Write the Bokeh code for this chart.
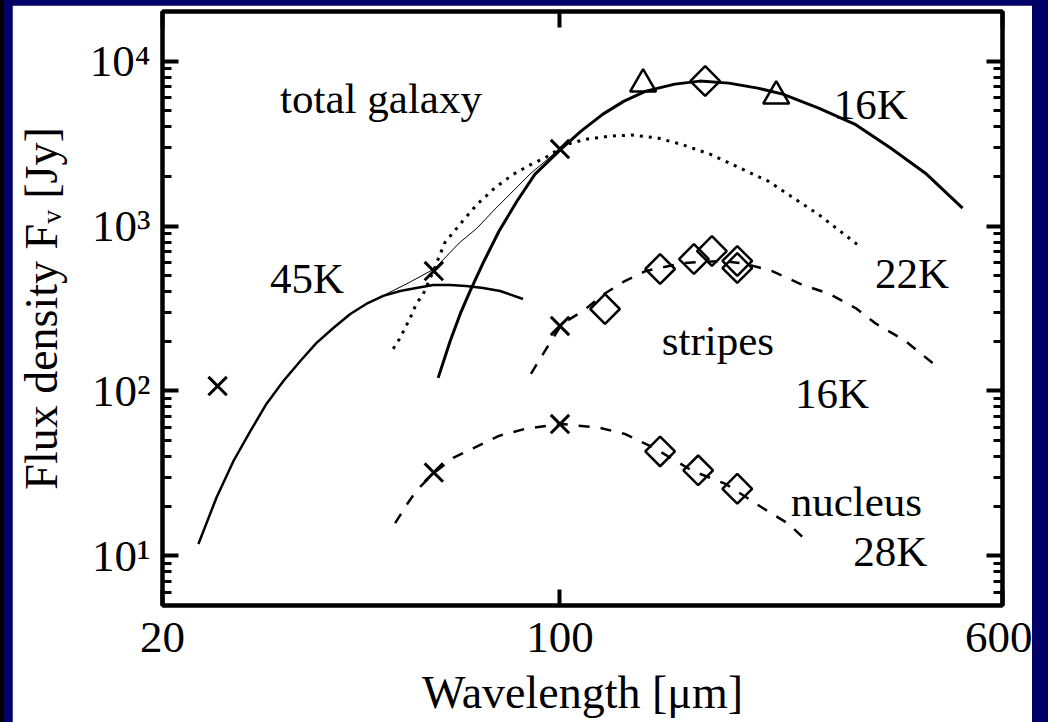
import numpy as np
from bokeh.plotting import figure
from bokeh.models import Range1d, FixedTicker, LogAxis
from bokeh.embed import file_html
from bokeh.resources import INLINE
from bokeh.core.properties import value

# ---------------- data (wavelength in micron, flux density in Jy) ----------------
# total galaxy: 45K component (solid)
lam_45k = [23.13, 24.88, 26.66, 28.56, 30.46, 32.63, 34.95, 37.28, 39.94, 42.78, 45.63, 48.89,
           52.36, 55.87, 59.84, 64.11, 68.39, 73.25, 78.47, 86.1]
flux_45k = [11.8, 22.5, 37.6, 57.2, 83.4, 115, 152, 195, 241, 293, 337, 377,
            404, 421, 439, 439, 433, 421, 404, 361]
# total galaxy: 22K component (dotted)
lam_22k = [50.9, 52.36, 54.52, 55.87, 57.47, 60.1, 62.71, 67.45, 71.48, 76.89, 82.7, 88.94, 94.23,
           102.8, 110.6, 122.4, 133.6, 147.9, 163.8, 184.0, 206.7, 232.2, 257.1, 284.7, 310.7, 338.9]
flux_22k = [180, 210, 277, 337, 387, 549, 792, 1072, 1353, 1708, 2056, 2364, 2595,
            3125, 3352, 3511, 3561, 3430, 3125, 2719, 2257, 1874, 1485, 1177, 933, 739]
# total galaxy: 16K component (thick solid)
lam_16k = [61.06, 64.11, 66.76, 69.51, 73.54, 78.15, 84.05, 90.39, 100.4, 108.9, 119.0, 129.6,
           141.6, 159.2, 176.2, 198.1, 222.7, 246.4, 285.0, 329.7, 381.4, 441.0, 510.4]
flux_16k = [120, 201, 293, 404, 614, 933, 1418, 2066, 2929, 3765, 4772, 5722,
            6579, 7255, 7566, 7357, 6862, 6310, 5191, 4152, 2970, 2066, 1286]
# total galaxy: sum of components (thin solid)
lam_sum = [45.63, 49.48, 54.08, 60.1, 66.49, 71.48, 76.89, 82.7, 88.94, 95.65, 100.4, 108.9]
flux_sum = [337, 387, 451, 549, 789, 972, 1268, 1630, 2095, 2583, 2970, 3765]
# stripes: 16K fit (dashed)
lam_str = [88.9, 94.1, 100.8, 109.7, 119.5, 130, 141.6, 164.4, 193.3, 212, 235.6, 265, 298, 331, 360, 405, 463]
flux_str = [127, 175, 255, 305, 387, 464, 534, 597, 614, 590, 534, 445, 387, 318, 255, 201, 138]
# nucleus: 28K fit (dashed)
lam_nuc = [51.3, 53.9, 55.9, 60.0, 64.9, 70.6, 78.1, 86.8, 100.8, 117.5, 130, 146.3, 171.2, 195.6,
           227.3, 252.5, 271.6]
flux_nuc = [15.8, 20.7, 24.8, 31.8, 39.3, 45.1, 53.4, 58.9, 63.1, 59.7, 54.9, 45.1, 32.7, 27.3,
            19.5, 15.6, 12.3]

# measured points
tot_x_lam = [25, 60, 100]
tot_x_flux = [107, 533, 2930]
tot_tri_lam = [140, 240]
tot_tri_flux = [7260, 6140]
tot_dia_lam = [180]
tot_dia_flux = [7570]
str_x_lam = [100]
str_x_flux = [248]
str_dia_lam = [120, 150, 172, 185, 205, 205]
str_dia_flux = [314, 549, 631, 705, 614, 556]
nuc_x_lam = [60, 100]
nuc_x_flux = [32, 63]
nuc_dia_lam = [150, 175, 205]
nuc_dia_flux = [43, 33, 25.5]

# annotations
ann_text = ["total galaxy", "16K", "45K", "22K", "stripes", "16K", "nucleus", "28K"]
ann_lam = [32.2, 303, 30.9, 358, 151, 259, 254.5, 328]
ann_flux = [5970, 5480, 484, 519, 201, 95.9, 21.5, 10.7]

# ticks
x_ticks = [20, 100, 600]
x_tick_labels = ["20", "100", "600"]
y_ticks = [10, 100, 1000, 10000]
y_tick_labels = ["10\u00b9", "10\u00b2", "10\u00b3", "10\u2074"]
y_minor = [m * 10 ** e for e in range(0, 4) for m in range(2, 10) if 5 < m * 10 ** e < 20000]

FONT = "'Liberation Serif', 'Times New Roman', serif"
NAVY = "#000066"

# canvas runs a little below the window so the x-axis title can sit at the very bottom edge
p = figure(width=1020, height=740, x_axis_type="log", y_axis_type="log",
           x_range=Range1d(20, 600), y_range=Range1d(5, 20000),
           output_backend="svg", toolbar_location=None,
           min_border_left=147, min_border_right=30, min_border_top=6, min_border_bottom=140,
           background_fill_color="white", border_fill_color="white",
           outline_line_color="black", outline_line_width=4)
p.margin = (5, 0, 0, 12)
p.xgrid.visible = False
p.ygrid.visible = False

xt = FixedTicker(ticks=x_ticks, minor_ticks=[])
yt = FixedTicker(ticks=y_ticks, minor_ticks=y_minor)

p.add_layout(LogAxis(), "right")
p.add_layout(LogAxis(), "above")

for ax in p.xaxis:
    ax.ticker = xt
for ax in p.yaxis:
    ax.ticker = yt

for ax in p.axis:
    ax.axis_line_width = 4
    ax.axis_line_color = "black"
    ax.major_tick_in = 16
    ax.major_tick_out = 0
    ax.minor_tick_in = 9
    ax.minor_tick_out = 0
    ax.major_tick_line_width = 4
    ax.minor_tick_line_width = 3
    ax.major_label_text_font = FONT
    ax.major_label_text_color = "black"
    ax.axis_label_text_font = FONT
    ax.axis_label_text_font_style = "normal"
    ax.axis_label_text_color = "black"

p.below[0].major_label_overrides = dict(zip(x_ticks, x_tick_labels))
p.left[0].major_label_overrides = dict(zip(y_ticks, y_tick_labels))
for ax in (p.below[0], p.left[0]):
    ax.major_label_text_font_size = "45px"
    ax.axis_label_text_font_size = "46px"
p.below[0].major_label_standoff = 17
p.below[0].axis_label_standoff = 12
p.left[0].major_label_standoff = 12
p.left[0].axis_label_standoff = 20
p.below[0].axis_label = "Wavelength [\u03bcm]"
p.left[0].axis_label = "Flux density F\u1d65 [Jy]"
for ax in (p.right[0], p.above[0]):
    ax.major_label_text_font_size = "0px"
    ax.major_label_standoff = 0
    ax.axis_label_standoff = 0
    ax.major_label_overrides = {t: "" for t in (x_ticks + y_ticks)}

# curves
p.line(lam_45k, flux_45k, line_color="black", line_width=2.5)
p.line(lam_22k, flux_22k, line_color="black", line_width=3, line_dash="3 6")
p.line(lam_16k, flux_16k, line_color="black", line_width=3)
p.line(lam_sum, flux_sum, line_color="black", line_width=1)
p.line(lam_str, flux_str, line_color="black", line_width=2.5, line_dash="11 11")
p.line(lam_nuc, flux_nuc, line_color="black", line_width=2.5, line_dash="11 11")

# markers
for lx, fx in ((tot_x_lam, tot_x_flux), (str_x_lam, str_x_flux), (nuc_x_lam, nuc_x_flux)):
    p.scatter(lx, fx, marker="x", size=26, line_color="black", line_width=3)
p.scatter(tot_tri_lam, tot_tri_flux, marker="triangle", size=26, fill_color=None,
          line_color="black", line_width=2.5)
for lx, fx in ((tot_dia_lam, tot_dia_flux), (str_dia_lam, str_dia_flux), (nuc_dia_lam, nuc_dia_flux)):
    p.scatter(lx, fx, marker="square", angle=np.pi / 4, size=21, fill_color=None,
              line_color="black", line_width=2.5)

p.text(ann_lam, ann_flux, text=ann_text, text_font=value(FONT), text_font_size="43px",
       text_baseline="alphabetic", text_align="left", text_color="black")

html = file_html(p, INLINE, title="Flux density SED")
css = ("<style>html, body { background: %s !important; margin: 0; overflow: hidden; "
       "box-shadow: inset 4px 0 0 #000; }</style>" % NAVY)
html = html.replace("</head>", css + "</head>", 1)
open("out.html", "w").write(html)
